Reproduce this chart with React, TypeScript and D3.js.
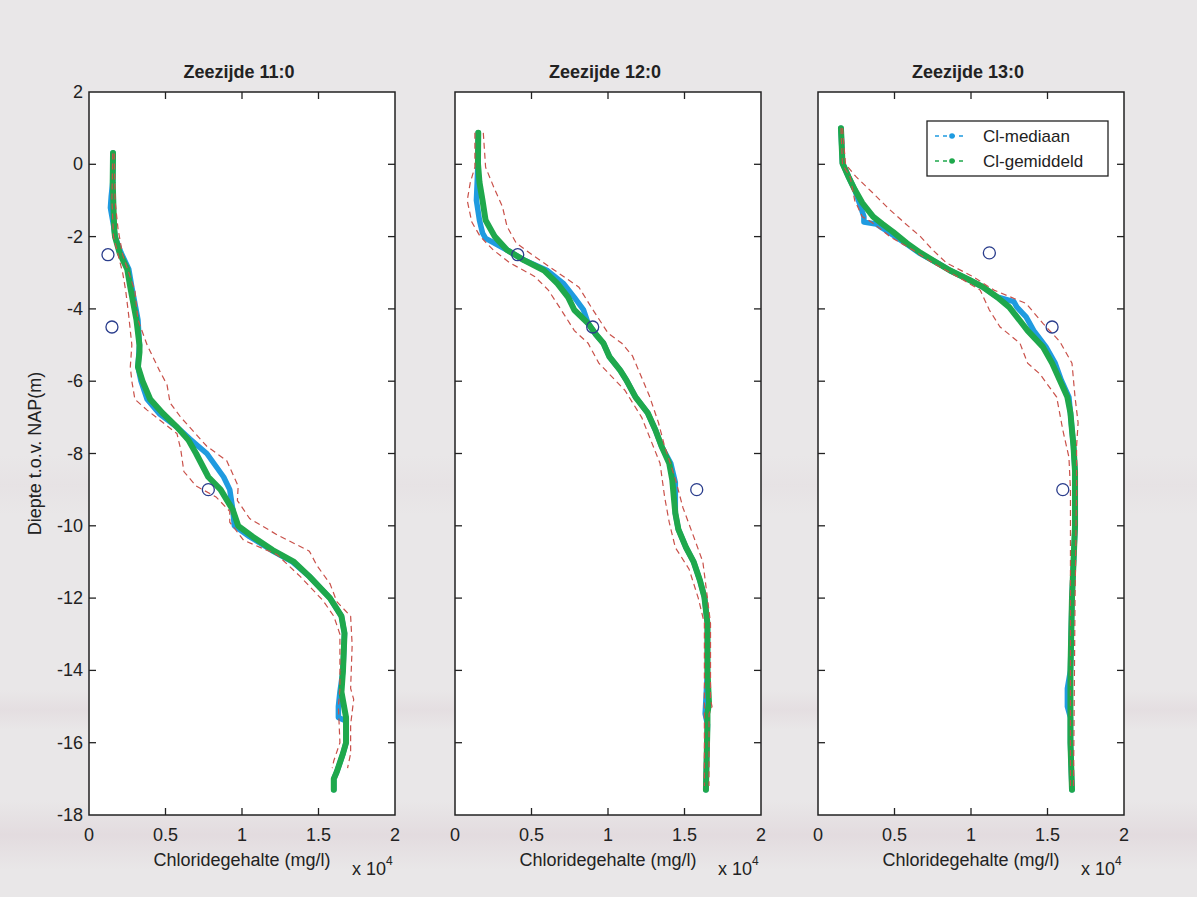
import React from "react";
import * as d3 from "d3";

type Pt = [number, number]; // [chloride (x10^4 mg/l), depth (m NAP)]

const titles = ["Zeezijde 11:0", "Zeezijde 12:0", "Zeezijde 13:0"];
const xTicks = [0, 0.5, 1, 1.5, 2];
const yTicks = [2, 0, -2, -4, -6, -8, -10, -12, -14, -16, -18];
const legendLabels = ["Cl-mediaan", "Cl-gemiddeld"];

// Panel 1 (Zeezijde 11:0)
const p1Median: Pt[] = [[0.157,0.31],[0.155,-0.5],[0.145,-0.9],[0.14,-1.2],[0.165,-1.8],[0.17,-2.0],[0.21,-2.45],[0.26,-2.9],[0.28,-3.4],[0.3,-3.85],[0.32,-4.3],[0.33,-5.0],[0.32,-5.6],[0.34,-6.0],[0.38,-6.5],[0.46,-6.9],[0.575,-7.27],[0.66,-7.6],[0.77,-8.0],[0.88,-8.65],[0.92,-9.0],[0.94,-9.56],[0.95,-10.0],[1.05,-10.3],[1.19,-10.67],[1.33,-11.0],[1.44,-11.4],[1.575,-12.0],[1.65,-12.5],[1.67,-12.97],[1.66,-14.0],[1.64,-14.6],[1.63,-15.0],[1.63,-15.3],[1.68,-15.4],[1.68,-16.0],[1.66,-16.3],[1.62,-16.8],[1.6,-17.0],[1.6,-17.3]];
const p1Mean: Pt[] = [[0.157,0.31],[0.155,-0.5],[0.16,-1.2],[0.165,-1.8],[0.17,-2.0],[0.2,-2.45],[0.25,-2.9],[0.27,-3.4],[0.29,-3.85],[0.31,-4.3],[0.33,-5.0],[0.33,-5.2],[0.32,-5.6],[0.35,-6.0],[0.4,-6.5],[0.48,-6.88],[0.575,-7.27],[0.65,-7.63],[0.7,-8.0],[0.78,-8.65],[0.86,-9.0],[0.94,-9.56],[0.975,-10.0],[1.07,-10.3],[1.2,-10.67],[1.34,-11.0],[1.44,-11.4],[1.575,-12.0],[1.65,-12.5],[1.67,-12.97],[1.66,-14.0],[1.65,-14.6],[1.68,-15.3],[1.68,-16.0],[1.66,-16.3],[1.62,-16.8],[1.6,-17.0],[1.6,-17.3]];
const p1Low: Pt[] = [[0.155,0.3],[0.15,-1.0],[0.16,-2.0],[0.19,-2.5],[0.22,-3.0],[0.24,-3.5],[0.26,-4.2],[0.28,-5.0],[0.27,-5.6],[0.28,-6.0],[0.3,-6.5],[0.38,-6.8],[0.575,-7.45],[0.6,-7.9],[0.62,-8.5],[0.7,-8.9],[0.83,-9.2],[0.92,-9.6],[0.92,-9.9],[1.01,-10.4],[1.23,-10.8],[1.38,-11.4],[1.53,-12.07],[1.6,-12.5],[1.64,-13.0],[1.64,-14.5],[1.63,-15.0],[1.64,-16.0],[1.6,-16.5],[1.59,-16.7]];
const p1High: Pt[] = [[0.165,0.3],[0.17,-1.0],[0.19,-1.8],[0.22,-2.5],[0.3,-3.5],[0.32,-4.3],[0.38,-5.0],[0.46,-5.7],[0.51,-6.1],[0.53,-6.6],[0.6,-7.0],[0.77,-7.8],[0.9,-8.2],[0.975,-8.9],[0.97,-9.3],[1.05,-9.8],[1.23,-10.25],[1.44,-10.7],[1.49,-11.1],[1.575,-11.6],[1.62,-12.1],[1.71,-12.5],[1.72,-13.3],[1.71,-14.5],[1.73,-14.8],[1.71,-15.5],[1.71,-16.3],[1.69,-16.7]];
const p1Obs: Pt[] = [[0.124,-2.5],[0.15,-4.5],[0.78,-9.0]];

// Panel 2 (Zeezijde 12:0)
const p2Median: Pt[] = [[0.152,0.87],[0.15,0.03],[0.145,-0.5],[0.14,-1.0],[0.16,-1.55],[0.18,-1.9],[0.2,-2.05],[0.34,-2.37],[0.45,-2.65],[0.6,-2.93],[0.71,-3.3],[0.78,-3.68],[0.84,-4.03],[0.87,-4.4],[0.92,-4.7],[0.97,-4.95],[1.01,-5.33],[1.08,-5.7],[1.12,-5.97],[1.18,-6.44],[1.26,-6.88],[1.31,-7.35],[1.35,-7.8],[1.41,-8.27],[1.44,-8.8],[1.44,-9.2],[1.44,-9.65],[1.46,-10.1],[1.51,-10.6],[1.56,-11.0],[1.6,-11.5],[1.63,-11.97],[1.65,-12.7],[1.65,-14.0],[1.64,-14.8],[1.635,-15.2],[1.65,-15.5],[1.64,-17.3]];
const p2Mean: Pt[] = [[0.152,0.87],[0.15,0.03],[0.16,-0.5],[0.18,-1.0],[0.2,-1.55],[0.26,-2.0],[0.34,-2.37],[0.45,-2.65],[0.58,-2.93],[0.67,-3.3],[0.74,-3.68],[0.78,-4.03],[0.87,-4.4],[0.92,-4.7],[0.97,-4.95],[1.01,-5.33],[1.08,-5.7],[1.12,-5.97],[1.18,-6.44],[1.26,-6.88],[1.31,-7.35],[1.35,-7.8],[1.4,-8.27],[1.42,-8.73],[1.43,-9.2],[1.44,-9.65],[1.46,-10.1],[1.51,-10.6],[1.56,-11.0],[1.6,-11.5],[1.63,-11.97],[1.65,-12.7],[1.65,-14.0],[1.66,-14.9],[1.65,-15.2],[1.65,-15.5],[1.64,-17.3]];
const p2Low: Pt[] = [[0.13,0.87],[0.13,-0.08],[0.1,-0.5],[0.08,-1.0],[0.11,-1.6],[0.165,-2.0],[0.25,-2.37],[0.36,-2.73],[0.52,-3.1],[0.61,-3.48],[0.69,-4.0],[0.78,-4.6],[0.87,-4.95],[0.94,-5.5],[1.11,-6.25],[1.22,-7.0],[1.34,-8.27],[1.37,-9.2],[1.4,-9.9],[1.44,-10.6],[1.53,-11.2],[1.59,-12.0],[1.63,-12.7],[1.63,-17.2]];
const p2High: Pt[] = [[0.185,0.87],[0.2,-0.08],[0.26,-0.7],[0.31,-1.17],[0.34,-1.72],[0.4,-2.18],[0.52,-2.55],[0.65,-2.93],[0.81,-3.4],[0.89,-3.95],[1.0,-4.67],[1.09,-4.95],[1.16,-5.3],[1.27,-6.4],[1.33,-7.15],[1.37,-7.8],[1.44,-8.7],[1.49,-9.5],[1.56,-10.3],[1.62,-11.0],[1.65,-12.0],[1.67,-12.7],[1.67,-14.8],[1.68,-15.0],[1.66,-15.2],[1.66,-17.2]];
const p2Obs: Pt[] = [[0.41,-2.5],[0.9,-4.5],[1.58,-9.0]];

// Panel 3 (Zeezijde 13:0)
const p3Median: Pt[] = [[0.15,1.0],[0.16,0.03],[0.2,-0.35],[0.24,-0.7],[0.27,-1.07],[0.3,-1.45],[0.3,-1.6],[0.38,-1.65],[0.46,-1.87],[0.57,-2.18],[0.66,-2.45],[0.78,-2.73],[0.86,-2.93],[0.99,-3.2],[1.08,-3.4],[1.17,-3.67],[1.28,-3.8],[1.3,-3.95],[1.36,-4.22],[1.41,-4.6],[1.49,-5.05],[1.55,-5.5],[1.59,-5.97],[1.64,-6.44],[1.65,-6.88],[1.66,-7.35],[1.67,-7.8],[1.68,-8.5],[1.68,-10.0],[1.67,-11.0],[1.66,-12.0],[1.65,-14.0],[1.63,-14.5],[1.63,-15.0],[1.65,-15.3],[1.65,-16.0],[1.66,-17.3]];
const p3Mean: Pt[] = [[0.15,1.0],[0.16,0.03],[0.2,-0.35],[0.24,-0.7],[0.29,-1.07],[0.36,-1.45],[0.42,-1.65],[0.49,-1.87],[0.58,-2.18],[0.67,-2.45],[0.78,-2.73],[0.86,-2.93],[0.99,-3.2],[1.08,-3.4],[1.17,-3.67],[1.25,-3.95],[1.3,-4.22],[1.37,-4.6],[1.47,-5.05],[1.53,-5.5],[1.58,-5.97],[1.63,-6.44],[1.65,-6.88],[1.66,-7.35],[1.67,-7.8],[1.68,-8.5],[1.68,-10.0],[1.67,-11.0],[1.66,-12.0],[1.65,-14.0],[1.65,-16.0],[1.66,-17.3]];
const p3Low: Pt[] = [[0.15,1.0],[0.16,0.0],[0.21,-0.35],[0.24,-1.0],[0.29,-1.45],[0.35,-1.6],[0.47,-2.0],[0.62,-2.37],[0.75,-2.73],[0.95,-3.2],[1.06,-3.48],[1.12,-4.03],[1.19,-4.5],[1.32,-4.95],[1.37,-5.5],[1.45,-5.8],[1.56,-6.44],[1.6,-7.35],[1.64,-8.1],[1.65,-9.0],[1.65,-17.2]];
const p3High: Pt[] = [[0.16,1.0],[0.18,0.0],[0.25,-0.35],[0.36,-0.8],[0.47,-1.26],[0.56,-1.6],[0.67,-2.0],[0.75,-2.37],[0.84,-2.73],[1.01,-3.1],[1.15,-3.48],[1.36,-3.85],[1.47,-4.4],[1.58,-4.9],[1.66,-5.5],[1.68,-6.44],[1.7,-7.15],[1.69,-7.8],[1.69,-9.0],[1.68,-12.0],[1.67,-17.2]];
const p3Obs: Pt[] = [[1.12,-2.45],[1.53,-4.5],[1.6,-9.0]];

const panels = [
  { title: titles[0], median: p1Median, mean: p1Mean, low: p1Low, high: p1High, obs: p1Obs },
  { title: titles[1], median: p2Median, mean: p2Mean, low: p2Low, high: p2High, obs: p2Obs },
  { title: titles[2], median: p3Median, mean: p3Mean, low: p3Low, high: p3High, obs: p3Obs },
];

const W = 1197;
const H = 897;
const panelLefts = [89, 455, 818];
const panelW = 306;
const top = 92;
const bottom = 815;

const BLUE = "#1f9be0";
const GREEN = "#1fa84c";
const RED = "#c9514a";
const NAVY = "#2a3d8c";
const FONT = "'Liberation Sans', Arial, sans-serif";

function Panel({ idx }: { idx: number }) {
  const p = panels[idx];
  const left = panelLefts[idx];
  const x = d3.scaleLinear().domain([0, 2]).range([left, left + panelW]);
  const y = d3.scaleLinear().domain([-18, 2]).range([bottom, top]);
  const line = d3
    .line<Pt>()
    .x((d) => x(d[0]))
    .y((d) => y(d[1]));
  const tl = 7;
  const cx = left + panelW / 2;
  return (
    <g>
      <rect x={left} y={top} width={panelW} height={bottom - top} fill="#ffffff" />
      <path d={line(p.median) || ""} fill="none" stroke={BLUE} strokeWidth={5.5} strokeLinejoin="round" strokeLinecap="round" />
      <path d={line(p.mean) || ""} fill="none" stroke={GREEN} strokeWidth={6} strokeLinejoin="round" strokeLinecap="round" />
      <path d={line(p.low) || ""} fill="none" stroke={RED} strokeWidth={1.2} strokeDasharray="6,4" />
      <path d={line(p.high) || ""} fill="none" stroke={RED} strokeWidth={1.2} strokeDasharray="6,4" />
      {p.obs.map((d, i) => (
        <circle key={i} cx={x(d[0])} cy={y(d[1])} r={6} fill="none" stroke={NAVY} strokeWidth={1.3} />
      ))}
      {/* frame */}
      <rect x={left} y={top} width={panelW} height={bottom - top} fill="none" stroke="#222" strokeWidth={1.5} />
      {/* ticks */}
      {xTicks.slice(1, -1).map((t) => (
        <g key={"xt" + t}>
          <line x1={x(t)} x2={x(t)} y1={bottom} y2={bottom - tl} stroke="#222" strokeWidth={1.3} />
          <line x1={x(t)} x2={x(t)} y1={top} y2={top + tl} stroke="#222" strokeWidth={1.3} />
        </g>
      ))}
      {yTicks.slice(1, -1).map((t) => (
        <g key={"yt" + t}>
          <line x1={left} x2={left + tl} y1={y(t)} y2={y(t)} stroke="#222" strokeWidth={1.3} />
          <line x1={left + panelW} x2={left + panelW - tl} y1={y(t)} y2={y(t)} stroke="#222" strokeWidth={1.3} />
        </g>
      ))}
      {xTicks.map((t) => (
        <text key={"xl" + t} x={x(t)} y={bottom + 26} textAnchor="middle" fontSize={18} fill="#222" fontFamily={FONT}>
          {String(t)}
        </text>
      ))}
      {idx === 0 &&
        yTicks.map((t) => (
          <text key={"yl" + t} x={left - 6} y={y(t) + 6} textAnchor="end" fontSize={18} fill="#222" fontFamily={FONT}>
            {String(t)}
          </text>
        ))}
      <text x={cx - 3} y={78} textAnchor="middle" fontSize={18} fontWeight="bold" fill="#222" fontFamily={FONT}>
        {p.title}
      </text>
      <text x={cx} y={866} textAnchor="middle" fontSize={18} fill="#222" fontFamily={FONT}>
        Chloridegehalte (mg/l)
      </text>
      <text x={left + panelW - 43} y={875} fontSize={18} fill="#222" fontFamily={FONT}>
        x 10
        <tspan dy={-10} fontSize={12}>4</tspan>
      </text>
      {idx === 0 && (
        <text
          transform={`translate(41, ${(top + bottom) / 2}) rotate(-90)`}
          textAnchor="middle"
          fontSize={18}
          fill="#222"
          fontFamily={FONT}
        >
          Diepte t.o.v. NAP(m)
        </text>
      )}
      {idx === 2 && (
        <g>
          <rect x={927} y={121} width={181} height={55} fill="#fff" stroke="#222" strokeWidth={1.3} />
          {[BLUE, GREEN].map((c, i) => (
            <g key={i}>
              <line x1={935} x2={966} y1={136 + i * 25} y2={136 + i * 25} stroke={c} strokeWidth={1.3} strokeDasharray="4,4" />
              <circle cx={952} cy={136 + i * 25} r={2.8} fill={c} />
              <text x={983} y={142 + i * 25} fontSize={17} fill="#222" fontFamily={FONT}>
                {legendLabels[i]}
              </text>
            </g>
          ))}
        </g>
      )}
    </g>
  );
}

export default function App() {
  return (
    <svg
      width={W}
      height={H}
      viewBox={`0 0 ${W} ${H}`}
      style={{ position: "absolute", left: 0, top: 0, display: "block" }}
    >
      <defs>
        <linearGradient id="band" x1="0" y1="0" x2="0" y2="1">
          <stop offset="0" stopColor="#dccfd5" stopOpacity={0} />
          <stop offset="0.5" stopColor="#dccfd5" stopOpacity={0.6} />
          <stop offset="1" stopColor="#dccfd5" stopOpacity={0} />
        </linearGradient>
      </defs>
      <rect x={0} y={0} width={W} height={H} fill="#e9e7e8" />
      <rect x={0} y={690} width={W} height={40} fill="url(#band)" opacity={0.6} />
      <rect x={0} y={800} width={W} height={70} fill="url(#band)" opacity={0.8} />
      <rect x={0} y={455} width={W} height={60} fill="url(#band)" opacity={0.3} />
      {panels.map((_, i) => (
        <Panel key={i} idx={i} />
      ))}
    </svg>
  );
}
